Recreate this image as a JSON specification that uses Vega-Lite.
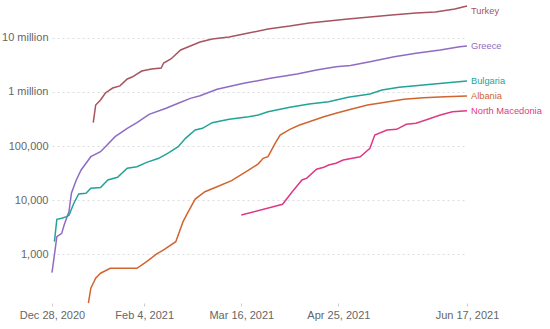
{
  "$schema": "https://vega.github.io/schema/vega-lite/v6.json",
  "width": 415,
  "height": 297,
  "autosize": {"type": "none"},
  "padding": {"left": 52, "top": 6, "right": 83, "bottom": 26},
  "background": "white",
  "config": {"view": {"stroke": null}, "font": "Liberation Sans"},
  "data": {"values": [
    {"country": "Greece", "date": "2020-12-28", "value": 460},
    {"country": "Greece", "date": "2020-12-29", "value": 980},
    {"country": "Greece", "date": "2020-12-30", "value": 2130},
    {"country": "Greece", "date": "2021-01-01", "value": 2450},
    {"country": "Greece", "date": "2021-01-02", "value": 3500},
    {"country": "Greece", "date": "2021-01-04", "value": 6170},
    {"country": "Greece", "date": "2021-01-05", "value": 13500},
    {"country": "Greece", "date": "2021-01-07", "value": 23700},
    {"country": "Greece", "date": "2021-01-09", "value": 36200},
    {"country": "Greece", "date": "2021-01-12", "value": 55400},
    {"country": "Greece", "date": "2021-01-13", "value": 63700},
    {"country": "Greece", "date": "2021-01-17", "value": 78800},
    {"country": "Greece", "date": "2021-01-19", "value": 97500},
    {"country": "Greece", "date": "2021-01-23", "value": 149000},
    {"country": "Greece", "date": "2021-01-28", "value": 213000},
    {"country": "Greece", "date": "2021-02-01", "value": 270000},
    {"country": "Greece", "date": "2021-02-06", "value": 385000},
    {"country": "Greece", "date": "2021-02-13", "value": 500000},
    {"country": "Greece", "date": "2021-02-18", "value": 617000},
    {"country": "Greece", "date": "2021-02-23", "value": 760000},
    {"country": "Greece", "date": "2021-02-27", "value": 851000},
    {"country": "Greece", "date": "2021-03-06", "value": 1120000},
    {"country": "Greece", "date": "2021-03-17", "value": 1440000},
    {"country": "Greece", "date": "2021-03-28", "value": 1780000},
    {"country": "Greece", "date": "2021-04-08", "value": 2140000},
    {"country": "Greece", "date": "2021-04-16", "value": 2540000},
    {"country": "Greece", "date": "2021-04-24", "value": 2920000},
    {"country": "Greece", "date": "2021-04-30", "value": 3070000},
    {"country": "Greece", "date": "2021-05-08", "value": 3600000},
    {"country": "Greece", "date": "2021-05-18", "value": 4460000},
    {"country": "Greece", "date": "2021-05-27", "value": 5150000},
    {"country": "Greece", "date": "2021-06-06", "value": 5930000},
    {"country": "Greece", "date": "2021-06-14", "value": 6830000},
    {"country": "Greece", "date": "2021-06-17", "value": 7030000},

    {"country": "Turkey", "date": "2021-01-14", "value": 270000},
    {"country": "Turkey", "date": "2021-01-15", "value": 573000},
    {"country": "Turkey", "date": "2021-01-17", "value": 710000},
    {"country": "Turkey", "date": "2021-01-19", "value": 955000},
    {"country": "Turkey", "date": "2021-01-22", "value": 1180000},
    {"country": "Turkey", "date": "2021-01-25", "value": 1290000},
    {"country": "Turkey", "date": "2021-01-28", "value": 1730000},
    {"country": "Turkey", "date": "2021-01-30", "value": 1880000},
    {"country": "Turkey", "date": "2021-02-03", "value": 2430000},
    {"country": "Turkey", "date": "2021-02-07", "value": 2650000},
    {"country": "Turkey", "date": "2021-02-11", "value": 2760000},
    {"country": "Turkey", "date": "2021-02-12", "value": 3410000},
    {"country": "Turkey", "date": "2021-02-15", "value": 4050000},
    {"country": "Turkey", "date": "2021-02-19", "value": 5930000},
    {"country": "Turkey", "date": "2021-02-22", "value": 6730000},
    {"country": "Turkey", "date": "2021-02-27", "value": 8330000},
    {"country": "Turkey", "date": "2021-03-04", "value": 9450000},
    {"country": "Turkey", "date": "2021-03-11", "value": 10300000},
    {"country": "Turkey", "date": "2021-03-19", "value": 12200000},
    {"country": "Turkey", "date": "2021-03-27", "value": 14500000},
    {"country": "Turkey", "date": "2021-04-05", "value": 16400000},
    {"country": "Turkey", "date": "2021-04-13", "value": 18700000},
    {"country": "Turkey", "date": "2021-04-21", "value": 20300000},
    {"country": "Turkey", "date": "2021-04-29", "value": 22100000},
    {"country": "Turkey", "date": "2021-05-08", "value": 24100000},
    {"country": "Turkey", "date": "2021-05-17", "value": 26200000},
    {"country": "Turkey", "date": "2021-05-27", "value": 28600000},
    {"country": "Turkey", "date": "2021-06-04", "value": 29800000},
    {"country": "Turkey", "date": "2021-06-12", "value": 33900000},
    {"country": "Turkey", "date": "2021-06-17", "value": 38400000},

    {"country": "Bulgaria", "date": "2020-12-29", "value": 1720},
    {"country": "Bulgaria", "date": "2020-12-30", "value": 4460},
    {"country": "Bulgaria", "date": "2021-01-01", "value": 4640},
    {"country": "Bulgaria", "date": "2021-01-03", "value": 4980},
    {"country": "Bulgaria", "date": "2021-01-04", "value": 5300},
    {"country": "Bulgaria", "date": "2021-01-06", "value": 8810},
    {"country": "Bulgaria", "date": "2021-01-08", "value": 13100},
    {"country": "Bulgaria", "date": "2021-01-11", "value": 13500},
    {"country": "Bulgaria", "date": "2021-01-13", "value": 16600},
    {"country": "Bulgaria", "date": "2021-01-17", "value": 17200},
    {"country": "Bulgaria", "date": "2021-01-20", "value": 23700},
    {"country": "Bulgaria", "date": "2021-01-24", "value": 26500},
    {"country": "Bulgaria", "date": "2021-01-28", "value": 38900},
    {"country": "Bulgaria", "date": "2021-02-01", "value": 41500},
    {"country": "Bulgaria", "date": "2021-02-05", "value": 50000},
    {"country": "Bulgaria", "date": "2021-02-10", "value": 59500},
    {"country": "Bulgaria", "date": "2021-02-14", "value": 75000},
    {"country": "Bulgaria", "date": "2021-02-18", "value": 97500},
    {"country": "Bulgaria", "date": "2021-02-21", "value": 139000},
    {"country": "Bulgaria", "date": "2021-02-25", "value": 198000},
    {"country": "Bulgaria", "date": "2021-02-28", "value": 213000},
    {"country": "Bulgaria", "date": "2021-03-04", "value": 270000},
    {"country": "Bulgaria", "date": "2021-03-11", "value": 312000},
    {"country": "Bulgaria", "date": "2021-03-19", "value": 348000},
    {"country": "Bulgaria", "date": "2021-03-23", "value": 375000},
    {"country": "Bulgaria", "date": "2021-03-27", "value": 431000},
    {"country": "Bulgaria", "date": "2021-04-05", "value": 520000},
    {"country": "Bulgaria", "date": "2021-04-13", "value": 598000},
    {"country": "Bulgaria", "date": "2021-04-21", "value": 659000},
    {"country": "Bulgaria", "date": "2021-04-29", "value": 794000},
    {"country": "Bulgaria", "date": "2021-05-08", "value": 914000},
    {"country": "Bulgaria", "date": "2021-05-13", "value": 1080000},
    {"country": "Bulgaria", "date": "2021-05-20", "value": 1220000},
    {"country": "Bulgaria", "date": "2021-05-30", "value": 1340000},
    {"country": "Bulgaria", "date": "2021-06-09", "value": 1480000},
    {"country": "Bulgaria", "date": "2021-06-17", "value": 1590000},

    {"country": "Albania", "date": "2021-01-12", "value": 126},
    {"country": "Albania", "date": "2021-01-13", "value": 238},
    {"country": "Albania", "date": "2021-01-15", "value": 364},
    {"country": "Albania", "date": "2021-01-17", "value": 450},
    {"country": "Albania", "date": "2021-01-21", "value": 556},
    {"country": "Albania", "date": "2021-02-01", "value": 556},
    {"country": "Albania", "date": "2021-02-05", "value": 736},
    {"country": "Albania", "date": "2021-02-09", "value": 1010},
    {"country": "Albania", "date": "2021-02-12", "value": 1210},
    {"country": "Albania", "date": "2021-02-17", "value": 1720},
    {"country": "Albania", "date": "2021-02-20", "value": 4030},
    {"country": "Albania", "date": "2021-02-22", "value": 6000},
    {"country": "Albania", "date": "2021-02-25", "value": 10500},
    {"country": "Albania", "date": "2021-03-01", "value": 14400},
    {"country": "Albania", "date": "2021-03-06", "value": 17800},
    {"country": "Albania", "date": "2021-03-12", "value": 23000},
    {"country": "Albania", "date": "2021-03-18", "value": 33700},
    {"country": "Albania", "date": "2021-03-23", "value": 47000},
    {"country": "Albania", "date": "2021-03-25", "value": 59500},
    {"country": "Albania", "date": "2021-03-27", "value": 63700},
    {"country": "Albania", "date": "2021-03-30", "value": 113000},
    {"country": "Albania", "date": "2021-04-01", "value": 160000},
    {"country": "Albania", "date": "2021-04-05", "value": 204000},
    {"country": "Albania", "date": "2021-04-09", "value": 245000},
    {"country": "Albania", "date": "2021-04-13", "value": 282000},
    {"country": "Albania", "date": "2021-04-19", "value": 348000},
    {"country": "Albania", "date": "2021-04-24", "value": 403000},
    {"country": "Albania", "date": "2021-04-29", "value": 463000},
    {"country": "Albania", "date": "2021-05-07", "value": 573000},
    {"country": "Albania", "date": "2021-05-13", "value": 632000},
    {"country": "Albania", "date": "2021-05-22", "value": 730000},
    {"country": "Albania", "date": "2021-05-30", "value": 782000},
    {"country": "Albania", "date": "2021-06-08", "value": 815000},
    {"country": "Albania", "date": "2021-06-17", "value": 840000},

    {"country": "North Macedonia", "date": "2021-03-16", "value": 5350},
    {"country": "North Macedonia", "date": "2021-04-02", "value": 8430},
    {"country": "North Macedonia", "date": "2021-04-06", "value": 14400},
    {"country": "North Macedonia", "date": "2021-04-10", "value": 23700},
    {"country": "North Macedonia", "date": "2021-04-12", "value": 25600},
    {"country": "North Macedonia", "date": "2021-04-16", "value": 37300},
    {"country": "North Macedonia", "date": "2021-04-19", "value": 40800},
    {"country": "North Macedonia", "date": "2021-04-21", "value": 44800},
    {"country": "North Macedonia", "date": "2021-04-24", "value": 48200},
    {"country": "North Macedonia", "date": "2021-04-27", "value": 55400},
    {"country": "North Macedonia", "date": "2021-05-04", "value": 63700},
    {"country": "North Macedonia", "date": "2021-05-08", "value": 91000},
    {"country": "North Macedonia", "date": "2021-05-10", "value": 160000},
    {"country": "North Macedonia", "date": "2021-05-15", "value": 198000},
    {"country": "North Macedonia", "date": "2021-05-19", "value": 204000},
    {"country": "North Macedonia", "date": "2021-05-23", "value": 252000},
    {"country": "North Macedonia", "date": "2021-05-27", "value": 264000},
    {"country": "North Macedonia", "date": "2021-05-31", "value": 303000},
    {"country": "North Macedonia", "date": "2021-06-06", "value": 375000},
    {"country": "North Macedonia", "date": "2021-06-11", "value": 431000},
    {"country": "North Macedonia", "date": "2021-06-17", "value": 450000}
  ]},
  "encoding": {
    "x": {
      "field": "date", "type": "temporal",
      "scale": {"type": "utc", "domain": [{"year": 2020, "month": 12, "date": 28, "utc": true}, {"year": 2021, "month": 6, "date": 17, "utc": true}]},
      "axis": {
        "title": null, "grid": false, "domain": false,
        "values": [
          {"year": 2020, "month": 12, "date": 28, "utc": true},
          {"year": 2021, "month": 2, "date": 4, "utc": true},
          {"year": 2021, "month": 3, "date": 16, "utc": true},
          {"year": 2021, "month": 4, "date": 25, "utc": true},
          {"year": 2021, "month": 6, "date": 17, "utc": true}
        ],
        "labelExpr": "utcFormat(datum.value, '%b %-d, %Y')",
        "labelOverlap": false, "labelFlush": false, "labelBound": false,
        "tickSize": 3, "tickColor": "#cccccc", "labelPadding": 3,
        "labelFontSize": 11, "labelColor": "#666666", "labelFont": "Liberation Sans"
      }
    },
    "y": {
      "field": "value", "type": "quantitative",
      "scale": {"type": "log", "domain": [127, 38500000], "nice": false, "zero": false},
      "axis": {
        "title": null, "domain": false, "ticks": false, "tickSize": 0,
        "values": [1000, 10000, 100000, 1000000, 10000000],
        "labelExpr": "datum.value >= 1000000 ? format(datum.value / 1000000, ',') + ' million' : format(datum.value, ',')",
        "labelOverlap": false,
        "gridColor": "#dddddd", "gridDash": [2, 3], "gridWidth": 1,
        "labelPadding": 4, "labelFontSize": 11, "labelColor": "#666666", "labelFont": "Liberation Sans"
      }
    },
    "color": {
      "field": "country", "type": "nominal", "legend": null,
      "scale": {
        "domain": ["Turkey", "Greece", "Bulgaria", "Albania", "North Macedonia"],
        "range": ["#a6545f", "#8e6cc4", "#23a398", "#d2642f", "#dd3a85"]
      }
    }
  },
  "layer": [
    {"mark": {"type": "line", "strokeWidth": 1.5, "interpolate": "linear"}},
    {
      "transform": [
        {"window": [{"op": "row_number", "as": "rn"}], "groupby": ["country"], "sort": [{"field": "date", "order": "descending"}]},
        {"filter": "datum.rn == 1 && datum.country != 'Turkey'"}
      ],
      "mark": {"type": "text", "align": "left", "baseline": "middle", "dx": 4, "fontSize": 9.3, "font": "Liberation Sans"},
      "encoding": {"text": {"field": "country"}}
    },
    {
      "transform": [
        {"window": [{"op": "row_number", "as": "rn"}], "groupby": ["country"], "sort": [{"field": "date", "order": "descending"}]},
        {"filter": "datum.rn == 1 && datum.country == 'Turkey'"}
      ],
      "mark": {"type": "text", "align": "left", "baseline": "middle", "dx": 4, "dy": 5, "fontSize": 9.3, "font": "Liberation Sans"},
      "encoding": {"text": {"field": "country"}}
    }
  ]
}
